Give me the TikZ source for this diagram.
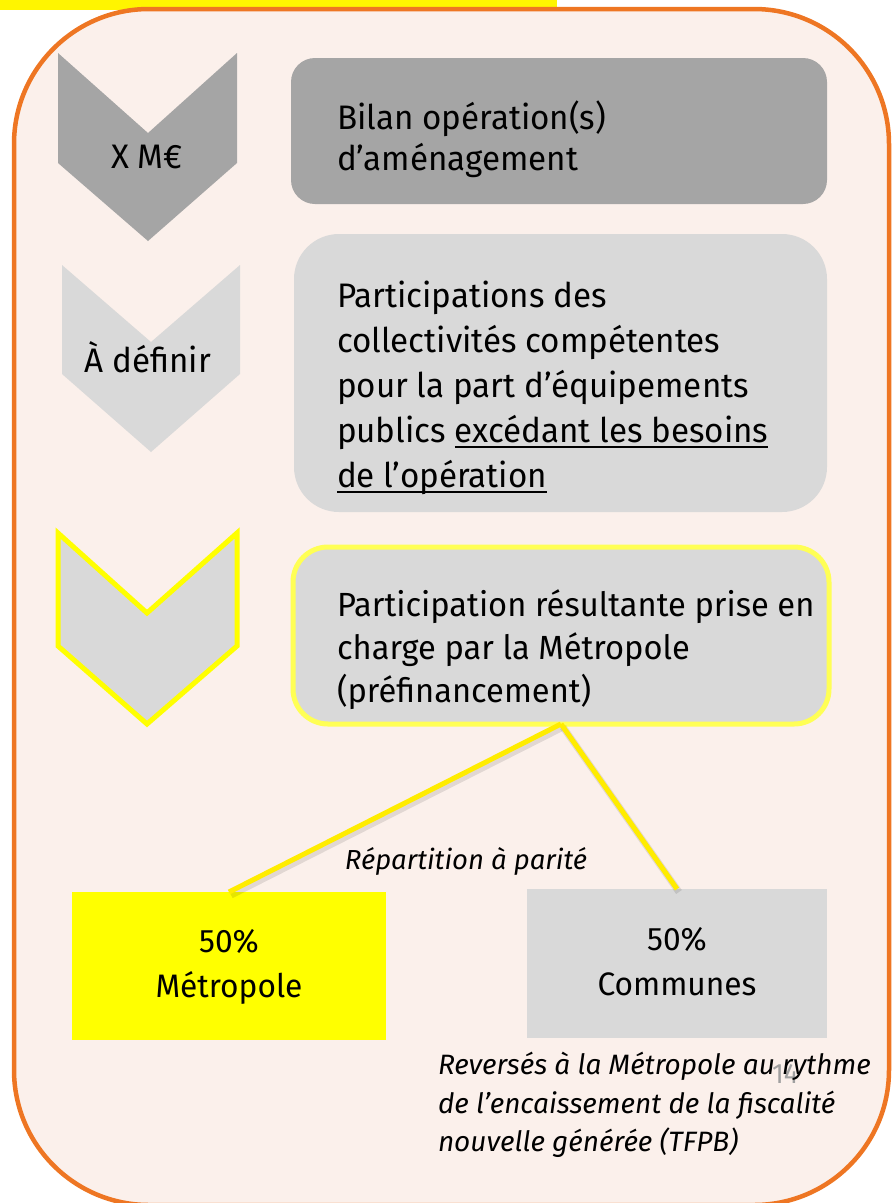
\documentclass[tikz,border=0pt]{standalone}
\usepackage{fontspec}
\setmainfont{Fira Sans}[FakeStretch=0.975,ItalicFeatures={FakeStretch=1.0}]
\definecolor{framefill}{RGB}{251,240,235}
\definecolor{frameorange}{RGB}{238,118,35}
\definecolor{topyellow}{RGB}{255,245,0}
\definecolor{dgray}{RGB}{165,165,165}
\definecolor{lgray}{RGB}{217,217,217}
\definecolor{pyellow}{RGB}{255,255,0}
\definecolor{byellow}{RGB}{255,255,85}
\definecolor{lyellow}{RGB}{255,236,0}
\definecolor{pagegray}{RGB}{160,160,160}
\newcommand\myul[1]{\setbox0\hbox{#1}\rlap{\rule[-6pt]{\wd0}{1.8pt}}\box0}
\begin{document}
\begin{tikzpicture}[x=1pt,y=-1pt,
  every node/.style={inner sep=0pt,outer sep=0pt},
  boxtext/.style={anchor=north west,align=left,font=\fontsize{34}{#1}\selectfont},
  chevlabel/.style={anchor=base,font=\fontsize{#1}{40}\selectfont},
  bigtext/.style={align=center,font=\fontsize{32.5}{45}\selectfont},
  itnote/.style={font=\itshape\fontsize{#1}{38.5}\selectfont},
  connector/.style={lyellow,line width=5pt},
  connshadow/.style={black,opacity=0.10,line width=7pt,transform canvas={shift={(2pt,-3pt)}}}
]
\useasboundingbox (0,0) rectangle (894,1203);
\clip (0,0) rectangle (894,1203);
% top bar and frame
\fill[topyellow] (0,0) rectangle (557,10);
\draw[frameorange,line width=4.5pt,fill=framefill,rounded corners=135pt] (14,9) rectangle (889,1205);
% chevrons
\fill[dgray] (58,53) -- (148,133) -- (237,53) -- (237,163) -- (148,241) -- (58,163) -- cycle;
\fill[lgray] (62,265) -- (151,342) -- (240,265) -- (240,374) -- (151,452) -- (62,374) -- cycle;
\draw[pyellow,line width=5pt,fill=lgray] (58,533) -- (147,613) -- (237,533) -- (237,646) -- (147,724) -- (58,646) -- cycle;
\node[chevlabel=34] (l1) at (147,168) {X M€};
\node[chevlabel=34] (l2) at (148,372) {À définir};
% boxes
\node[fill=dgray,rounded corners=24pt,minimum width=536pt,minimum height=146pt] (b1) at (559,131) {};
\node[fill=lgray,rounded corners=45pt,minimum width=533pt,minimum height=278pt] (b2) at (560.5,373) {};
\node[fill=lgray,draw=byellow,line width=5pt,rounded corners=35pt,minimum width=536pt,minimum height=177pt] (b3) at (561,635.5) {};
\node[boxtext=41] (t1) at (337,101) {\strut Bilan opération(s)\\\strut d’aménagement};
\node[boxtext=45] (t2) at (337,275.5) {\strut Participations des\\\strut collectivités compétentes\\\strut pour la part d’équipements\\\strut publics \myul{excédant les besoins}\\\strut \myul{de l’opération}};
\node[boxtext=43,font=\fontsize{33.5}{43}\selectfont] (t3) at (337,586) {\strut Participation résultante prise en\\\strut charge par la Métropole\\\strut (préfinancement)};
% bottom boxes
\node[fill=pyellow,minimum width=314pt,minimum height=148pt,bigtext] (yb) at (229,966) {\strut 50\%\\\strut Métropole};
\node[fill=lgray,minimum width=300pt,minimum height=149pt,bigtext] (gb) at (677,963.5) {\strut 50\%\\\strut Communes};
% connectors
\draw[connshadow] (b3.south) -- (yb.north);
\draw[connshadow] (b3.south) -- (gb.north);
\draw[connector] (b3.south) -- (yb.north);
\draw[connector] (b3.south) -- (gb.north);
% notes
\node[itnote=27.5,anchor=base] (rep) at (466,869) {Répartition à parité};
\node[anchor=base west,text=pagegray,font=\fontsize{28}{30}\selectfont] (pg) at (772,1083) {14};
\node[itnote=28,anchor=north west,align=left] (rev) at (438,1048) {\strut Reversés à la Métropole au rythme\\\strut de l’encaissement de la fiscalité\\\strut nouvelle générée (TFPB)};
\end{tikzpicture}
\end{document}
